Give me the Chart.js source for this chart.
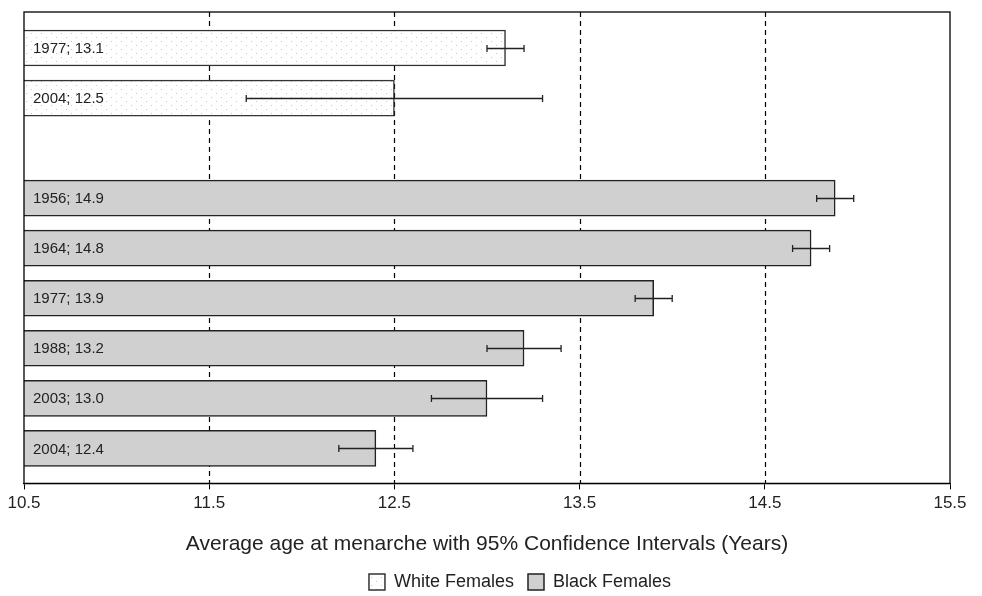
<!DOCTYPE html>
<html lang="en">
<head>
    <meta charset="UTF-8">
    <title>Average age at menarche</title>
    <script src="https://cdn.jsdelivr.net/npm/chart.js"></script>
    <style>
        html, body { margin: 0; padding: 0; background: #fff; }
        .wrap { width: 982px; height: 596px; }
    </style>
</head>
<body>
    <div class="wrap"><canvas id="menarcheChart" width="982" height="596"></canvas></div>

    <script>
        // rows top to bottom; row 2 is left empty between the two groups
        const whiteRows = [0, 1];
        const whiteYears = [1977, 2004];
        const whiteMean = [13.1, 12.5];
        const whiteLow = [13.0, 11.7];
        const whiteHigh = [13.2, 13.3];

        const blackRows = [3, 4, 5, 6, 7, 8];
        const blackYears = [1956, 1964, 1977, 1988, 2003, 2004];
        const blackMean = [14.88, 14.75, 13.9, 13.2, 13.0, 12.4];
        const blackLow = [14.78, 14.65, 13.8, 13.0, 12.7, 12.2];
        const blackHigh = [14.98, 14.85, 14.0, 13.4, 13.3, 12.6];

        const xTicks = [10.5, 11.5, 12.5, 13.5, 14.5, 15.5];
        const seriesNames = ['White Females', 'Black Females'];
        const axisTitle = 'Average age at menarche with 95% Confidence Intervals (Years)';

        const FONT = 'Liberation Sans, Arial, Helvetica, sans-serif';

        // light dotted fill for the white bars
        function dotPattern() {
            const c = document.createElement('canvas');
            c.width = 10; c.height = 8;
            const g = c.getContext('2d');
            g.fillStyle = '#fff';
            g.fillRect(0, 0, 10, 8);
            g.fillStyle = '#c8c8c8';
            g.fillRect(1, 1, 1, 1);
            g.fillRect(6, 5, 1, 1);
            return g.createPattern(c, 'repeat');
        }
        const pattern = dotPattern();

        function points(rows, vals) {
            return rows.map((r, i) => ({ x: vals[i], y: r }));
        }

        const framePlugin = {
            id: 'frame',
            afterLayout(chart) {
                // legend sits a little right of centre in the original
                const lg = chart.legend;
                if (lg) { lg.left += 33; lg.right += 33; }
            },
            beforeDatasetsDraw(chart) {
                const { ctx, chartArea: a, scales: { x } } = chart;
                ctx.save();
                ctx.strokeStyle = '#000';
                ctx.lineWidth = 1.2;
                ctx.setLineDash([5, 4]);
                xTicks.slice(1, -1).forEach(v => {
                    const px = Math.round(x.getPixelForValue(v)) + 0.5;
                    ctx.beginPath();
                    ctx.moveTo(px, a.top);
                    ctx.lineTo(px, a.bottom);
                    ctx.stroke();
                });
                ctx.restore();
            },
            afterDatasetsDraw(chart) {
                const { ctx, chartArea: a, scales: { x, y } } = chart;
                ctx.save();
                // error bars
                ctx.strokeStyle = '#222';
                ctx.lineWidth = 1.3;
                const drawErr = (rows, lo, hi) => rows.forEach((r, i) => {
                    const py = Math.round(y.getPixelForValue(r)) + 0.5;
                    const x1 = x.getPixelForValue(lo[i]);
                    const x2 = x.getPixelForValue(hi[i]);
                    ctx.beginPath();
                    ctx.moveTo(x1, py); ctx.lineTo(x2, py);
                    ctx.moveTo(x1, py - 3.5); ctx.lineTo(x1, py + 3.5);
                    ctx.moveTo(x2, py - 3.5); ctx.lineTo(x2, py + 3.5);
                    ctx.stroke();
                });
                drawErr(whiteRows, whiteLow, whiteHigh);
                drawErr(blackRows, blackLow, blackHigh);

                // labels inside the bars
                ctx.fillStyle = '#222';
                ctx.font = '15px ' + FONT;
                ctx.textBaseline = 'middle';
                const drawLbl = (rows, years, mean) => rows.forEach((r, i) => {
                    ctx.fillText(years[i] + '; ' + mean[i].toFixed(1), a.left + 9, y.getPixelForValue(r) + 1);
                });
                drawLbl(whiteRows, whiteYears, whiteMean);
                drawLbl(blackRows, blackYears, blackMean);

                // plot frame
                ctx.strokeStyle = '#000';
                ctx.lineWidth = 1.3;
                ctx.strokeRect(a.left, a.top, a.right - a.left, a.bottom - a.top);
                ctx.restore();
            }
        };

        new Chart(document.getElementById('menarcheChart'), {
            type: 'bar',
            data: {
                datasets: [{
                    label: seriesNames[0],
                    data: points(whiteRows, whiteMean),
                    backgroundColor: pattern,
                    borderColor: '#333',
                    borderWidth: 1.5
                }, {
                    label: seriesNames[1],
                    data: points(blackRows, blackMean),
                    backgroundColor: '#d0d0d0',
                    borderColor: '#222',
                    borderWidth: 1.5
                }]
            },
            plugins: [framePlugin],
            options: {
                responsive: false,
                animation: false,
                indexAxis: 'y',
                layout: { padding: { left: 24, right: 32, top: 12, bottom: -5 } },
                datasets: { bar: { grouped: false, barThickness: 36, borderSkipped: false } },
                scales: {
                    x: {
                        type: 'linear',
                        min: 10.5,
                        max: 15.5,
                        afterBuildTicks(s) { s.ticks = xTicks.map(v => ({ value: v })); },
                        grid: { drawOnChartArea: false, drawTicks: true, tickLength: 6, tickColor: '#000' },
                        border: { display: true, color: '#000', width: 1.3 },
                        ticks: {
                            color: '#222',
                            padding: 4,
                            font: { family: FONT, size: 17 },
                            callback: v => v.toFixed(1)
                        },
                        title: {
                            display: true,
                            text: axisTitle,
                            color: '#222',
                            font: { family: FONT, size: 21 },
                            padding: { top: 14, bottom: 2 }
                        }
                    },
                    y: {
                        type: 'linear',
                        reverse: true,
                        offset: false,
                        min: -0.72,
                        max: 8.7,
                        display: false
                    }
                },
                plugins: {
                    legend: {
                        position: 'bottom',
                        labels: {
                            boxWidth: 16,
                            boxHeight: 16,
                            padding: 14,
                            color: '#222',
                            font: { family: FONT, size: 18 }
                        }
                    },
                    tooltip: { enabled: false }
                }
            }
        });
    </script>
</body>
</html>
